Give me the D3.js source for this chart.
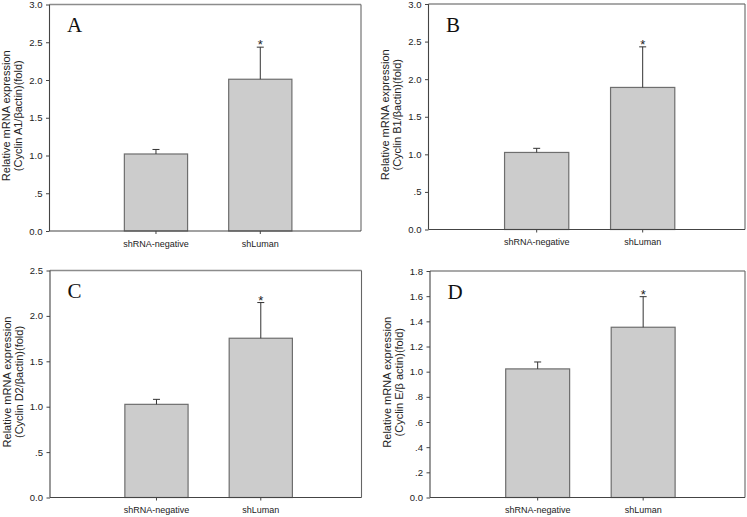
<!DOCTYPE html>
<html>
<head>
<meta charset="utf-8">
<script src="https://cdn.jsdelivr.net/npm/d3@7"></script>
<style>
  html, body { margin: 0; padding: 0; background: #fff; }
  svg { display: block; }
</style>
</head>
<body>
<svg id="chart" width="747" height="517"></svg>
<script>
// ---- data ----
const categories = ["shRNA-negative", "shLuman"];
const panelLetters = ["A", "B", "C", "D"];
const yTitleLine1 = "Relative mRNA expression";
const yTitleLine2 = ["(Cyclin A1/\u03b2actin)(fold)", "(Cyclin B1/\u03b2actin)(fold)", "(Cyclin D2/\u03b2actin)(fold)", "(Cyclin E/\u03b2 actin)(fold)"];
const meansA = [1.02, 2.01];
const errorsA = [0.06, 0.425];
const meansB = [1.025, 1.89];
const errorsB = [0.055, 0.54];
const meansC = [1.026, 1.754];
const errorsC = [0.055, 0.393];
const meansD = [1.022, 1.353];
const errorsD = [0.055, 0.243];
const significant = ["", "*"];
const yMaxes = [3.0, 3.0, 2.5, 1.8];
const yTickSteps = [0.5, 0.5, 0.5, 0.2];

const allMeans = [meansA, meansB, meansC, meansD];
const allErrors = [errorsA, errorsB, errorsC, errorsD];

// ---- layout ----
const frames = [
  {left: 49.5, top: 4.5, right: 361, bottom: 231},
  {left: 428.5, top: 4, right: 745, bottom: 229.5},
  {left: 50, top: 270.5, right: 361.5, bottom: 497.5},
  {left: 430, top: 271, right: 745, bottom: 497.5}
];

const svg = d3.select("#chart");
const fmt = v => {
  if (Math.abs(v) < 1e-9) return "0.0";
  if (v < 1) return d3.format(".1f")(v).replace(/^0/, "");
  return d3.format(".1f")(v);
};

frames.forEach((f, i) => {
  const W = f.right - f.left, H = f.bottom - f.top;
  const g = svg.append("g").attr("transform", `translate(${f.left},${f.top})`);
  const x = d3.scaleBand().domain(categories).range([0, W])
    .paddingInner(0.394).paddingOuter(0.69).align(0.52);
  const y = d3.scaleLinear().domain([0, yMaxes[i]]).range([H, 0]);
  const ticks = d3.range(0, yMaxes[i] + 1e-9, yTickSteps[i]);

  // frame top & right
  g.append("line").attr("x1", 0).attr("x2", W).attr("y1", 0).attr("y2", 0)
    .attr("stroke", "#8c8c8c").attr("stroke-width", 1.3);
  g.append("line").attr("x1", W).attr("x2", W).attr("y1", 0).attr("y2", H)
    .attr("stroke", "#666").attr("stroke-width", 1.1);

  // bars
  const means = allMeans[i], errs = allErrors[i];
  const data = categories.map((c, k) => ({c, m: means[k], e: errs[k], s: significant[k]}));
  g.selectAll("rect.bar").data(data).join("rect").attr("class", "bar")
    .attr("x", d => x(d.c)).attr("width", x.bandwidth())
    .attr("y", d => y(d.m)).attr("height", d => H - y(d.m))
    .attr("fill", "#cccccc").attr("stroke", "#6e6e6e").attr("stroke-width", 1.2);

  // error bars (upper only)
  const cx = d => x(d.c) + x.bandwidth() / 2;
  g.selectAll("line.err").data(data).join("line").attr("class", "err")
    .attr("x1", cx).attr("x2", cx)
    .attr("y1", d => y(d.m)).attr("y2", d => y(d.m + d.e))
    .attr("stroke", "#333").attr("stroke-width", 1);
  g.selectAll("line.cap").data(data).join("line").attr("class", "cap")
    .attr("x1", d => cx(d) - 3.5).attr("x2", d => cx(d) + 3.5)
    .attr("y1", d => y(d.m + d.e)).attr("y2", d => y(d.m + d.e))
    .attr("stroke", "#333").attr("stroke-width", 1);
  g.selectAll("text.sig").data(data).join("text").attr("class", "sig")
    .attr("x", cx).attr("y", d => y(d.m + d.e) + 2)
    .attr("text-anchor", "middle")
    .attr("font-family", "Liberation Sans, Arial, sans-serif").attr("font-size", 13)
    .attr("fill", "#222").text(d => d.s);

  // axes
  const yAxis = d3.axisLeft(y).tickValues(ticks).tickFormat(fmt).tickSize(3.5).tickPadding(3.5);
  const ya = g.append("g").call(yAxis);
  const xAxis = d3.axisBottom(x).tickSize(3).tickPadding(6.5);
  const xa = g.append("g").attr("transform", `translate(0,${H})`).call(xAxis);
  [ya, xa].forEach(a => {
    a.select(".domain").attr("stroke", "#444").attr("stroke-width", 1.1);
    a.selectAll(".tick line").attr("stroke", "#444");
    a.selectAll("text").attr("font-family", "Liberation Sans, Arial, sans-serif")
      .attr("font-size", 9).attr("fill", "#222");
  });
  ya.selectAll("text").attr("font-size", 9.5);
  ya.select(".domain").attr("d", `M0,${H}V0`);
  xa.select(".domain").attr("d", `M0,0H${W}`);

  // panel letter
  g.append("text").attr("x", 17.5).attr("y", 27.5)
    .attr("font-family", "Liberation Serif, Times New Roman, serif")
    .attr("font-size", 21).attr("fill", "#111").text(panelLetters[i]);

  // y title
  const t = g.append("g").attr("transform", `translate(0,${H / 2 - 2}) rotate(-90)`);
  t.append("text").attr("x", 0).attr("y", -39.5).attr("text-anchor", "middle")
    .attr("font-family", "Liberation Sans, Arial, sans-serif").attr("font-size", 11)
    .attr("fill", "#222").text(yTitleLine1);
  t.append("text").attr("x", 0).attr("y", -27.5).attr("text-anchor", "middle")
    .attr("font-family", "Liberation Sans, Arial, sans-serif").attr("font-size", 11)
    .attr("fill", "#222").text(yTitleLine2[i]);
});
</script>
</body>
</html>
